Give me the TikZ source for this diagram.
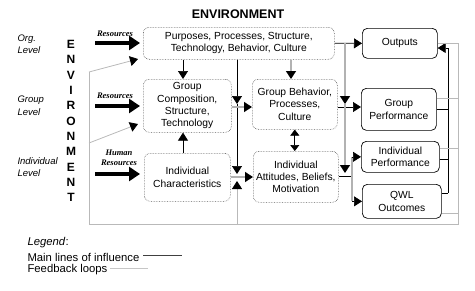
\documentclass[tikz,border=0pt]{standalone}
\usepackage{fontspec}
\setmainfont{Liberation Sans}
\newfontfamily\tnr{Liberation Serif}
\usetikzlibrary{arrows.meta,calc}
\begin{document}
\begin{tikzpicture}[x=1pt,y=-1pt,
  dbox/.style={draw=gray!70!black, densely dotted, line width=0.6pt, rounded corners=6pt, align=center,
    font=\fontsize{10.3}{12.3}\selectfont, anchor=north west, inner sep=1pt},
  sbox/.style={draw=black, line width=0.7pt, rounded corners=5pt, align=center,
    font=\fontsize{10.3}{12.3}\selectfont, anchor=north west, inner sep=1pt},
  main/.style={draw=black, line width=0.7pt},
  fb/.style={draw=gray!55, line width=0.8pt},
  mid/.style={draw=gray!60, line width=1.3pt},
  tip/.style={-{Triangle[length=8pt,width=10pt,color=black,fill=black]}},
  dtip/.style={{Triangle[length=6pt,width=9pt,color=black,fill=black]}-{Triangle[length=6pt,width=9pt,color=black,fill=black]}},
  res/.style={draw=black, line width=3.2pt, -{Triangle[length=11pt,width=14pt]}},
  lvl/.style={font=\fontsize{9.5}{12.5}\selectfont\itshape, align=left, anchor=west},
  rl/.style={font=\tnr\bfseries\itshape\fontsize{8.5}{10.5}\selectfont, align=center},
  leg/.style={font=\fontsize{11.3}{13}\selectfont, anchor=west}
]
\useasboundingbox (0,0) rectangle (475,290);

% title and side labels
\node[font=\bfseries\fontsize{12.5}{14}\selectfont] (title) at (238,14) {ENVIRONMENT};
\node[font=\bfseries\fontsize{12}{15.3}\selectfont, align=center] (envv) at (71,121)
  {E\\N\\V\\I\\R\\O\\N\\M\\E\\N\\T};
\node[lvl] (lorg) at (14,44) {Org.\\Level};
\node[lvl] (lgrp) at (14,105.5) {Group\\Level};
\node[lvl] (lind) at (14,167) {Individual\\Level};

% boxes
\node[dbox, minimum width=191pt, minimum height=32pt] (b1) at (143,27)
  {Purposes, Processes, Structure,\\Technology, Behavior, Culture};
\node[dbox, minimum width=88pt, minimum height=53pt] (b2) at (143,79)
  {Group\\Composition,\\Structure,\\Technology};
\node[dbox, minimum width=85pt, minimum height=50pt] (b3) at (252,79)
  {Group Behavior,\\Processes,\\Culture};
\node[dbox, minimum width=86pt, minimum height=48pt] (b4) at (144,153)
  {Individual\\Characteristics};
\node[dbox, minimum width=85pt, minimum height=51pt] (b5) at (253,151)
  {Individual\\Attitudes, Beliefs,\\Motivation};
\node[sbox, minimum width=75pt, minimum height=30pt] (out) at (362,28) {Outputs};
\node[sbox, minimum width=75pt, minimum height=42pt] (gp) at (361,88) {Group\\Performance};
\node[sbox, minimum width=78pt, minimum height=31pt] (ip) at (361,141) {Individual\\Performance};
\node[sbox, minimum width=79pt, minimum height=34pt] (qwl) at (362,184) {QWL\\Outcomes};

% resources
\node[rl] (r1) at (115,34) {Resources};
\node[rl] (r2) at (115,96) {Resources};
\node[rl] (r3) at (119,158) {Human\\Resources};
\coordinate (s1) at (95,43);
\coordinate (s2) at (95,106);
\coordinate (s3) at (95,174);
\draw[res, shorten >=3pt] (s1) -- (s1 -| b1.west);
\draw[res, shorten >=3pt] (s2) -- (s2 -| b2.west);
\draw[res, shorten >=4pt] (s3) -- (s3 -| b4.west);

% column / row helpers
\coordinate (xA) at (183,0);
\coordinate (xB) at (237,0);
\coordinate (xC) at (291,0);
\coordinate (xD) at (345,0);
\coordinate (xE) at (352,0);
\coordinate (xF) at (448,0);
\coordinate (xG) at (458,0);
\coordinate (yR) at (0,107);
\coordinate (yI) at (0,177);
\coordinate (yJ) at (0,176);

% main lines of influence
\draw[main,tip] (b1.south -| xA) -- (b2.north -| xA);
\draw[main,tip] (b4.north -| xA) -- (b2.south -| xA);
\draw[mid,tip] (b1.south -| xC) -- (b3.north -| xC);
\draw[main,tip] (b1.east) -- (out.west);
\coordinate (jB1) at (237,104);
\coordinate (jB2) at (237,174);
\draw[main,tip] (b1.south -| xB) -- (jB1);
\draw[main,tip] (jB1) -- (jB2);
\draw[mid,tip] (b2.east |- yR) -- (b3.west |- yR);
\draw[mid,tip] (b4.east |- yI) -- (b5.west |- yI);
\draw[main,tip] (b3.east |- yR) -- (gp.west |- yR);
\draw[main,dtip] (b3.south) -- (b3.south |- b5.north);
\coordinate (jD0) at (345,43);
\coordinate (jD1) at (345,104);
\coordinate (jD2) at (345,173);
\draw[mid,tip] (jD0) -- (jD1);
\draw[mid,tip] (jD1) -- (jD2);
\draw[main] (b5.east |- yJ) -- (xE |- yJ);
\draw[mid] (xE |- ip.west) -- (xE |- qwl.west);
\draw[main,tip] (xE |- ip.west) -- (ip.west);
\draw[main,tip] (xE |- qwl.west) -- (qwl.west);

% right collector
\coordinate (rTop) at (448,48);
\coordinate (rBot) at (448,193);
\coordinate (yGP) at (0,109);
\coordinate (yIP) at (0,159);
\draw[main,tip] (rTop) -- (out.east |- rTop);
\draw[main] (rTop) -- (rBot);
\draw[main] (gp.east |- yGP) -- (xF |- yGP);
\draw[main] (ip.east |- yIP) -- (xF |- yIP);
\draw[main] (qwl.east |- rBot) -- (rBot);

% feedback loops
\coordinate (f1) at (0,43);
\coordinate (f2) at (0,98);
\coordinate (f3) at (0,148);
\coordinate (f4) at (0,213);
\coordinate (fTR) at (458,43);
\coordinate (fBR) at (458,224);
\coordinate (fBL) at (89,224);
\coordinate (fTL) at (89,72);
\coordinate (fML) at (89,143);
\coordinate (fUp) at (237,224);
\coordinate (fT1) at (138,59);
\coordinate (fT2) at (138,124);
\coordinate (fT3) at (237,181);
\draw[fb] (out.east |- f1) -- (fTR) -- (fBR) -- (fBL) -- (fTL);
\draw[fb] (gp.east |- f2) -- (xG |- f2);
\draw[fb] (ip.east |- f3) -- (xG |- f3);
\draw[fb] (qwl.east |- f4) -- (xG |- f4);
\draw[fb,tip] (fTL) -- (fT1);
\draw[fb,tip] (fML) -- (fT2);
\draw[fb,tip] (fUp) -- (fT3);

% legend
\node[leg] (lg0) at (24,243) {\textit{Legend}:};
\node[leg] (lg1) at (24,257) {Main lines of influence};
\node[leg] (lg2) at (24,270) {Feedback loops};
\coordinate (lm1) at (143,255);
\coordinate (lm2) at (182,255);
\coordinate (lf1) at (110,268);
\coordinate (lf2) at (148,268);
\draw[draw=gray!50!black, line width=0.8pt] (lm1) -- (lm2);
\draw[draw=gray!45, line width=0.8pt] (lf1) -- (lf2);
\end{tikzpicture}
\end{document}
